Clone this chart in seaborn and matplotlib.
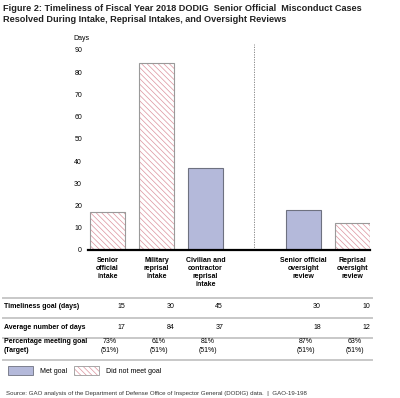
import pandas as pd
import seaborn as sns
import matplotlib.pyplot as plt
import matplotlib.colors as mcolors
from matplotlib.patches import Patch
from matplotlib.transforms import blended_transform_factory

categories = ["Senior\nofficial\nintake", "Military\nreprisal\nintake",
              "Civilian and\ncontractor\nreprisal\nintake",
              "Senior official\noversight\nreview", "Reprisal\noversight\nreview"]
goal_days = [15, 30, 45, 30, 10]
avg_days = [17, 84, 37, 18, 12]
pct_met = ["73%", "61%", "81%", "87%", "63%"]
pct_target = ["(51%)", "(51%)", "(51%)", "(51%)", "(51%)"]

df = pd.DataFrame({"category": categories, "days": avg_days, "goal": goal_days})
df["met"] = df["days"] <= df["goal"]

MET = "#b4b9da"
HATCH = "#dc939e"
EDGE = "#6e7180"
EDGE_LIGHT = "#9a9a9a"
GRID = "#c8c8c8"
HATCH_PAT = "\\" * 6

plt.rcParams["font.family"] = ["Liberation Sans", "DejaVu Sans"]
plt.rcParams["hatch.linewidth"] = 0.5


def set_hatch_color(p, c):
    if hasattr(p, "set_hatchcolor"):
        p.set_hatchcolor(c)
    else:
        p._hatch_color = mcolors.to_rgba(c)


fig = plt.figure(figsize=(4, 3.98), dpi=100)
ax = fig.add_axes([0.22, 0.3719, 0.705, 0.5025])

# spacer category leaves the gap where the dashed divider goes
order = categories[:3] + [""] + categories[3:]
palette = {c: (MET if m else "white") for c, m in zip(df["category"], df["met"])}
sns.barplot(data=df, x="category", y="days", hue="category", order=order,
            palette=palette, legend=False, width=0.72, edgecolor=EDGE,
            linewidth=0.8, saturation=1, ax=ax)

for p in ax.patches:
    cx = p.get_x() + p.get_width() / 2
    cat = order[int(round(cx))]
    if cat and not df.loc[df["category"] == cat, "met"].iloc[0]:
        p.set_edgecolor(EDGE_LIGHT)
        p.set_hatch(HATCH_PAT)
        set_hatch_color(p, HATCH)

ax.set_xlim(-0.40, 5.36)
ax.set_ylim(0, 90)
ax.set_yticks(range(0, 91, 10))
ax.tick_params(axis="y", length=0, pad=4.3, labelsize=5)
ax.tick_params(axis="x", length=0, pad=5, labelsize=5)
for lab in ax.get_xticklabels():
    lab.set_fontweight("bold")
    lab.set_verticalalignment("top")
ax.set_xlabel("")
ax.set_ylabel("")
for s in ["top", "right", "left"]:
    ax.spines[s].set_visible(False)
ax.spines["bottom"].set_linewidth(1.6)
ax.spines["bottom"].set_color("black")
ax.vlines(3, 0, 92.5, colors="#777777", linestyles=(0, (1.5, 1.5)),
          linewidth=0.6, clip_on=False)


def fy(py):
    return 1 - py / 398


fig.text(73 / 400, fy(38), "Days", fontsize=5, va="center", ha="left")

fig.text(0.008, 0.99, "Figure 2: Timeliness of Fiscal Year 2018 DODIG  Senior Official  Misconduct Cases\n"
         "Resolved During Intake, Reprisal Intakes, and Oversight Reviews",
         fontsize=6.6, fontweight="bold", va="top", ha="left", linespacing=1.3,
         color="#222222")

# table below the chart
tr = blended_transform_factory(ax.transData, fig.transFigure)

for py in [297.5, 317.5, 338, 360]:
    fig.add_artist(plt.Line2D([3 / 400, 372 / 400], [fy(py), fy(py)],
                              color=GRID, linewidth=1.4))

fig.text(4 / 400, fy(307), "Timeliness goal (days)", fontsize=5, fontweight="bold", va="center")
fig.text(4 / 400, fy(327.5), "Average number of days", fontsize=5, fontweight="bold", va="center")
fig.text(4 / 400, fy(346), "Percentage meeting goal\n(Target)", fontsize=5,
         fontweight="bold", va="center", linespacing=1.3)

cols = [i for i, c in enumerate(order) if c]
for i, x in enumerate(cols):
    xr = x + 0.36
    fig.text(xr, fy(307), str(goal_days[i]), fontsize=5, ha="right", va="center", transform=tr)
    fig.text(xr, fy(327.5), str(avg_days[i]), fontsize=5, ha="right", va="center", transform=tr)
    fig.text(xr - 0.12, fy(346), pct_met[i] + "\n" + pct_target[i], fontsize=5,
             ha="right", va="center", multialignment="center", linespacing=1.3,
             transform=tr)

handles = [Patch(facecolor=MET, edgecolor=EDGE, linewidth=0.6, label="Met goal"),
           Patch(facecolor="white", edgecolor=EDGE_LIGHT, linewidth=0.6, hatch=HATCH_PAT,
                 label="Did not meet goal")]
leg = fig.legend(handles=handles, loc="upper left", bbox_to_anchor=(8 / 400, fy(366)),
                 ncol=2, frameon=False, fontsize=5, handlelength=3.6, handleheight=1.6,
                 handletextpad=1.0, columnspacing=1.0, borderpad=0, borderaxespad=0)
set_hatch_color(leg.get_patches()[1], HATCH)

fig.text(6 / 400, fy(393), "Source: GAO analysis of the Department of Defense Office of Inspector General "
         "(DODIG) data.  |  GAO-19-198", fontsize=4.4, va="center", color="#333333")

plt.savefig("out.png", dpi=100)
